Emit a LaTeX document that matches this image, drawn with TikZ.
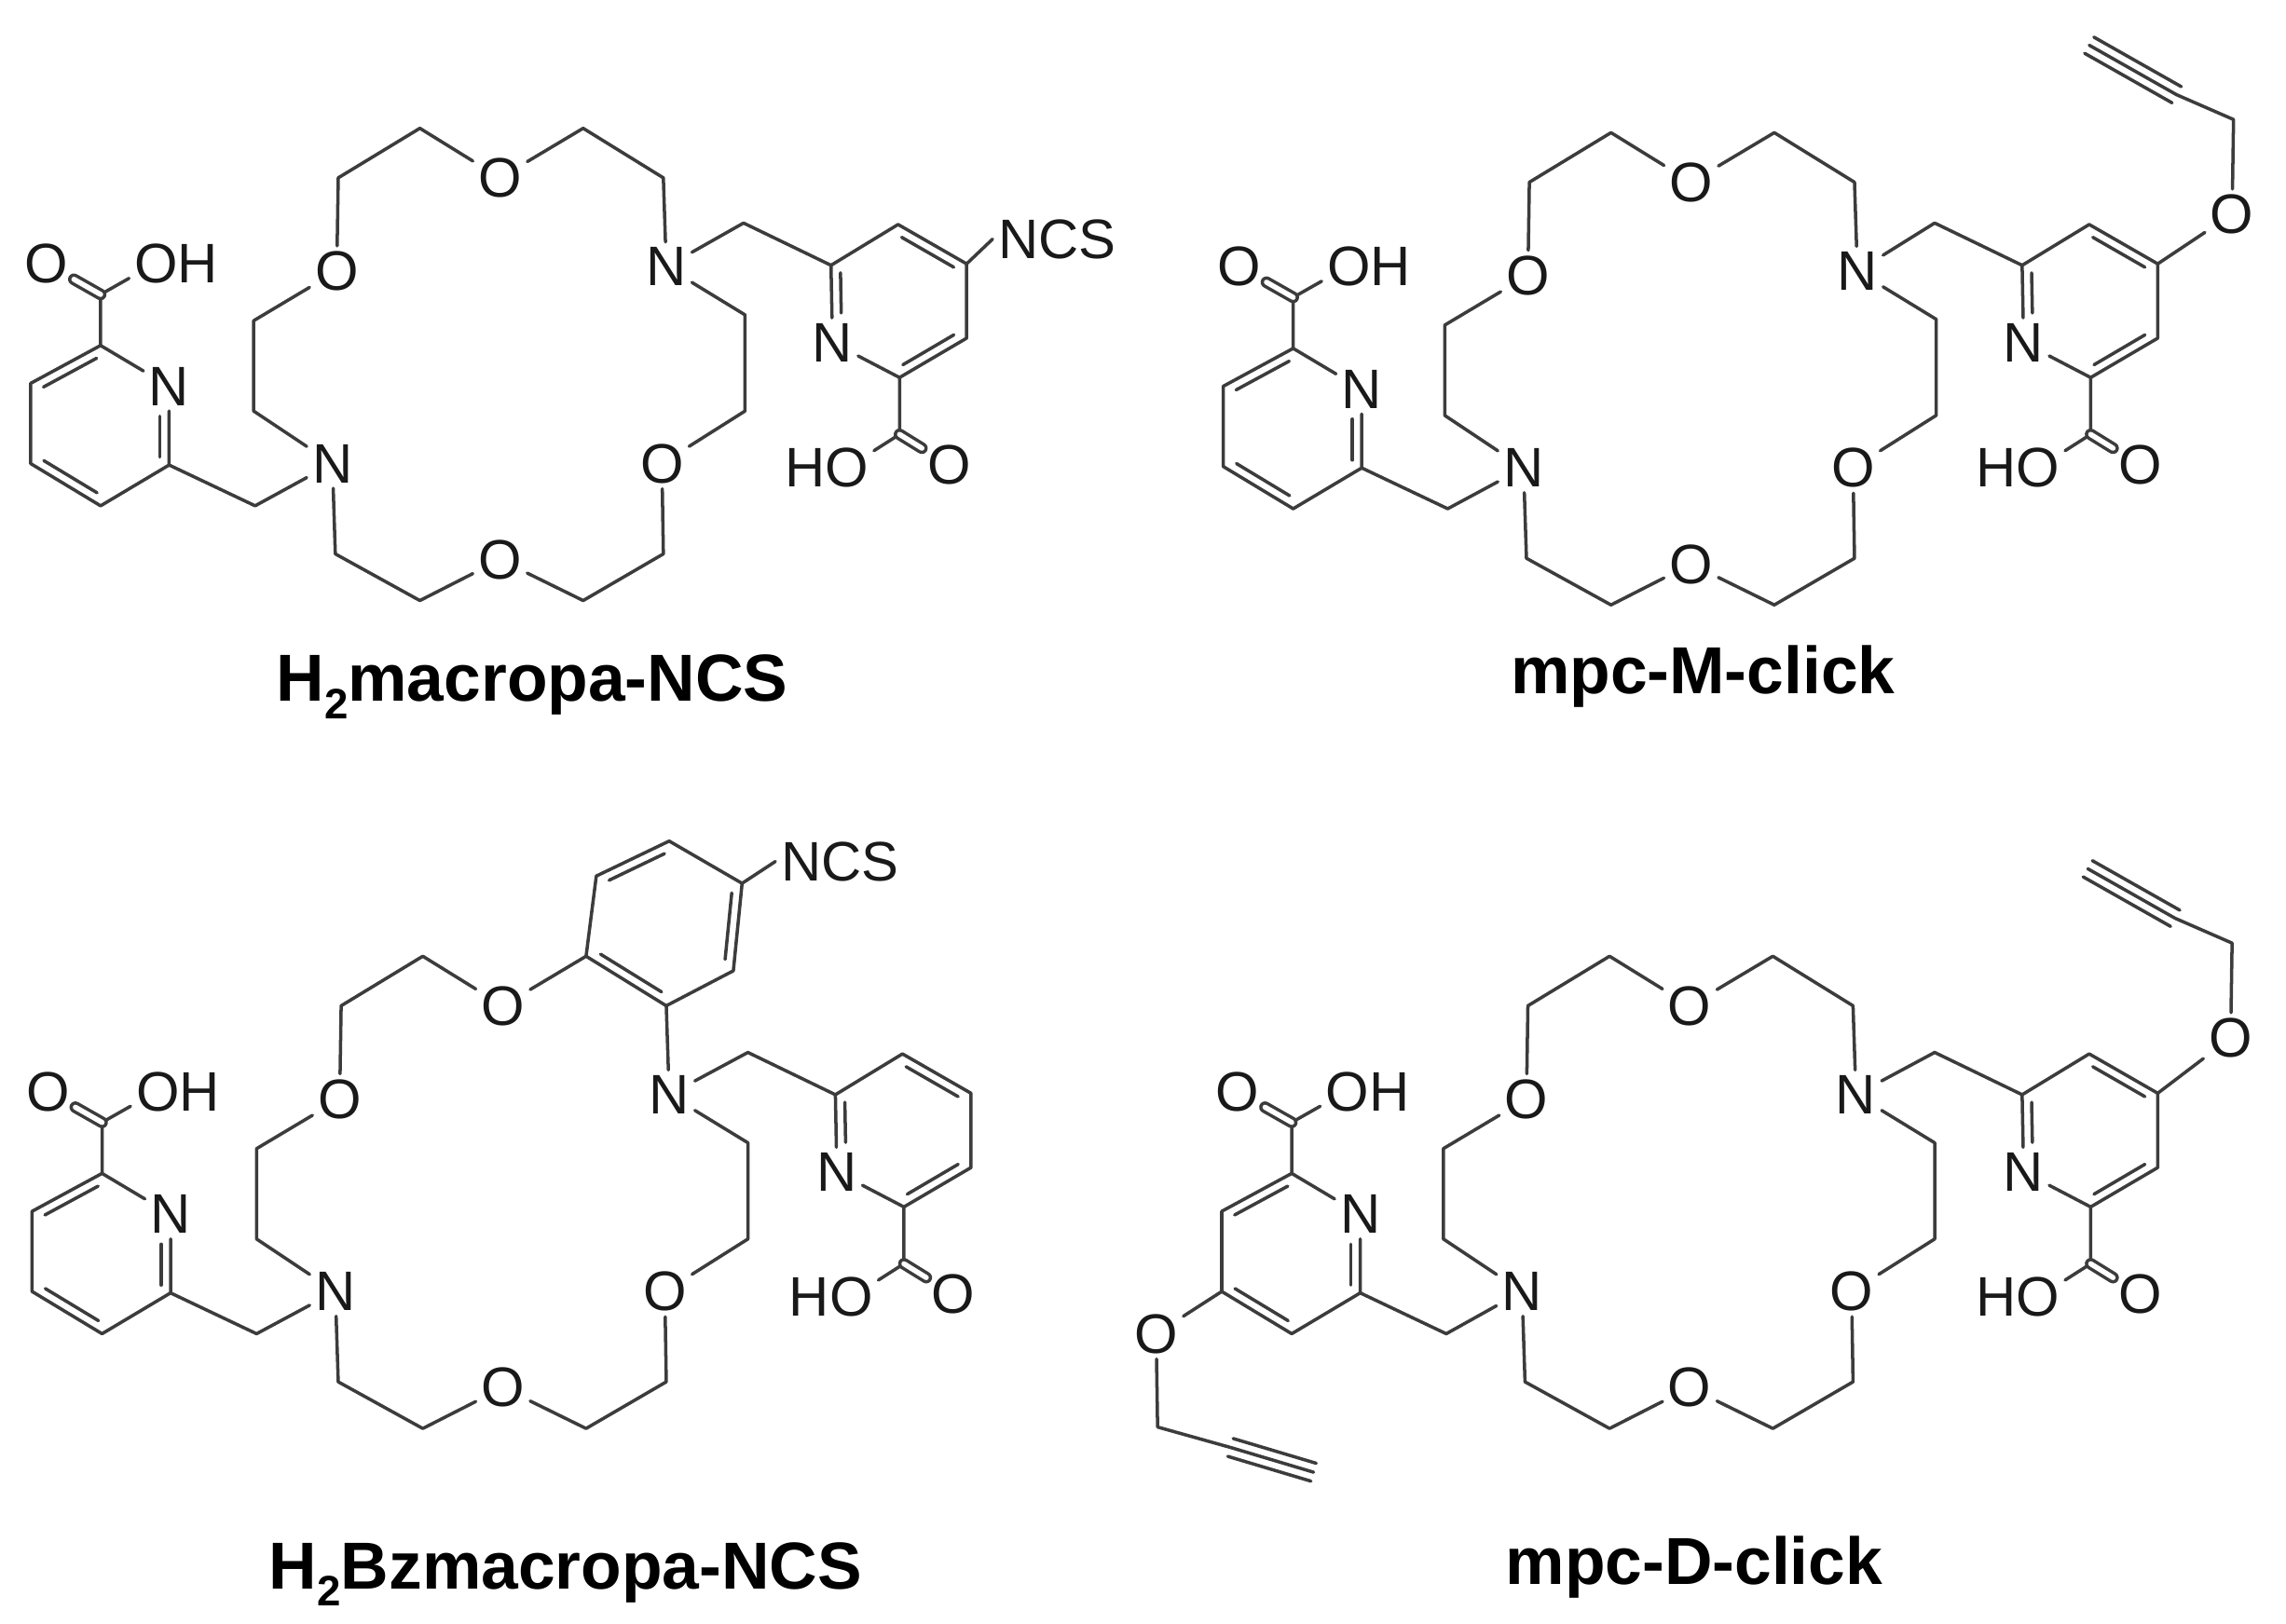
\documentclass[tikz,border=0pt]{standalone}
\usepackage{fontspec}
\setmainfont{Liberation Sans}
\usetikzlibrary{calc}
\definecolor{bondgray}{RGB}{60,60,60}
\definecolor{atomblack}{RGB}{25,25,25}
\tikzset{
  bond/.style={bondgray, line width=1pt, line cap=round, line join=round},
  cobond/.style={bond, double=white, double distance=0.055cm},
  atom/.style={atomblack, inner sep=1.5pt, font=\fontsize{17}{17}\selectfont},
  caption/.style={black, anchor=base, inner sep=0pt, font=\fontsize{20.3}{20.3}\selectfont\bfseries}
}
\newcommand{\lowtwo}{\raisebox{-5.3pt}{\fontsize{13}{13}\selectfont 2}}
% second line of a double bond: from, to, side, inset at each end
\newcommand{\inbond}[5]{
  \draw[bond] ($(#1)!#4!(#2)!0.1cm!#3:(#2)$) -- ($(#2)!#5!(#1)!0.1cm!-#3:(#1)$);
}
\newcommand{\crowncycle}{
  \node[atom] (otop) at (343,122) {O};
  \node[atom] (oleft) at (231,186) {O};
  \node[atom] (oright) at (454,318) {O};
  \node[atom] (obot) at (343,384) {O};
  \node[atom] (nleft) at (228,318) {N};
  \node[atom] (nright) at (457,183) {N};
  \coordinate (c1) at (232,122);
  \coordinate (c2) at (288,88);
  \coordinate (c3) at (400,88);
  \coordinate (c4) at (455,122);
  \coordinate (c5) at (511,216);
  \coordinate (c6) at (511,282);
  \coordinate (c7) at (455,380);
  \coordinate (c8) at (400,412);
  \coordinate (c9) at (288,412);
  \coordinate (c10) at (230,380);
  \coordinate (c11) at (174,282);
  \coordinate (c12) at (174,220);
  \draw[bond] (oleft) -- (c1) -- (c2) -- (otop) -- (c3) -- (c4) -- (nright) -- (c5) -- (c6) -- (oright);
  \draw[bond] (oright) -- (c7) -- (c8) -- (obot) -- (c9) -- (c10) -- (nleft) -- (c11) -- (c12) -- (oleft);
}
\newcommand{\leftpyr}[1]{
  \begin{scope}[shift={(#1)}]
    \node[atom] (ln) at (116,265) {N};
    \coordinate (lc6) at (69,237);
    \coordinate (lc5) at (21,263);
    \coordinate (lc4) at (21,318);
    \coordinate (lc3) at (69,347);
    \coordinate (lc2) at (116,319);
    \coordinate (lch) at (175,347);
    \coordinate (lcc) at (69,202);
    \node[atom] (lo) at (32,181) {O};
    \node[atom] (loh) at (121,181) {OH};
    \draw[bond] (ln) -- (lc6) -- (lc5) -- (lc4) -- (lc3) -- (lc2) -- (ln);
    \inbond{lc6}{lc5}{90}{.12}{.12}
    \inbond{lc4}{lc3}{90}{.12}{.12}
    \inbond{lc2}{ln}{90}{.1}{.38}
    \draw[bond] (lc2) -- (lch) -- (nleft);
    \draw[bond] (lc6) -- (lcc) -- (loh.197);
    \draw[cobond] (lcc) -- (lo);
  \end{scope}
}
\newcommand{\rightpyr}[1]{
  \begin{scope}[shift={(#1)}]
    \node[atom] (rn) at (571,235) {N};
    \coordinate (rc2) at (570,182);
    \coordinate (rc3) at (616,154);
    \coordinate (rc4) at (663,181);
    \coordinate (rc5) at (663,232);
    \coordinate (rc6) at (617,259);
    \coordinate (rch) at (510,153);
    \coordinate (rcc) at (617,298);
    \node[atom] (ro) at (651,319) {O};
    \node[atom] (rho) at (567,321) {HO};
    \draw[bond] (rn) -- (rc2) -- (rc3) -- (rc4) -- (rc5) -- (rc6) -- (rn);
    \inbond{rc2}{rn}{90}{.1}{.38}
    \inbond{rc6}{rc5}{90}{.12}{.12}
    \inbond{rc4}{rc3}{90}{.12}{.12}
    \draw[bond] (rc2) -- (rch) -- (nright);
    \draw[bond] (rc6) -- (rcc) -- (rho.20);
    \draw[cobond] (rcc) -- (ro);
  \end{scope}
}
% ether arm with the triple bond, upper right
\newcommand{\propoxy}{
  \node[atom] (po) at (714,144) {O};
  \coordinate (pch) at (715,79);
  \coordinate (pt) at (676,62);
  \coordinate (pe) at (616,28);
  \draw[bond] (rc4) -- (po) -- (pch) -- (pt) -- (pe);
  \inbond{pt}{pe}{90}{0}{0}
  \inbond{pt}{pe}{-90}{0}{0}
}
\begin{document}
\begin{tikzpicture}[x=0.015644cm, y=-0.015644cm]
  \useasboundingbox (0,0) rectangle (1568,1114);

  % H2macropa-NCS
  \begin{scope}[name prefix=a-]
    \crowncycle
    \leftpyr{0,0}
    \rightpyr{0,0}
    \node[atom] (ncs) at (725,164) {NCS};
    \draw[bond] (rc4) -- (ncs.west);
    \node[caption] (name) at (365,481) {H\lowtwo macropa-NCS};
  \end{scope}

  % mpc-M-click
  \begin{scope}[shift={(817,3)}, name prefix=b-]
    \crowncycle
    \leftpyr{1,-1}
    \rightpyr{0,-3}
    \propoxy
    \node[caption] (name) at (351,473) {mpc-M-click};
  \end{scope}

  % H2Bzmacropa-NCS
  \begin{scope}[shift={(2,568)}, name prefix=c-]
    \crowncycle
    \leftpyr{-1,0}
    \rightpyr{1,1}
    \coordinate (bz1) at (457,9);
    \coordinate (bz2) at (407,33);
    \coordinate (bz3) at (501,98);
    \coordinate (bz4) at (507,38);
    \draw[bond] (c3) -- (bz2) -- (bz1) -- (bz4) -- (bz3) -- (c4);
    \inbond{bz1}{bz2}{90}{.12}{.12}
    \inbond{c3}{c4}{90}{.12}{.12}
    \inbond{bz3}{bz4}{90}{.12}{.12}
    \node[atom] (ncs) at (574,23) {NCS};
    \draw[bond] (bz4) -- (ncs.west);
    \node[caption] (name) at (386,522) {H\lowtwo Bzmacropa-NCS};
  \end{scope}

  % mpc-D-click
  \begin{scope}[shift={(816,568)}, name prefix=d-]
    \crowncycle
    \leftpyr{1,0}
    \rightpyr{1,1}
    \propoxy
    \node[atom] (po2) at (-23,347) {O};
    \coordinate (pch2) at (-22,411);
    \coordinate (pt2) at (28,425);
    \coordinate (pe2) at (85,442);
    \draw[bond] (lc4) -- (po2) -- (pch2) -- (pt2) -- (pe2);
    \inbond{pt2}{pe2}{90}{0}{0}
    \inbond{pt2}{pe2}{-90}{0}{0}
    \node[caption] (name) at (346,519) {mpc-D-click};
  \end{scope}
\end{tikzpicture}
\end{document}
